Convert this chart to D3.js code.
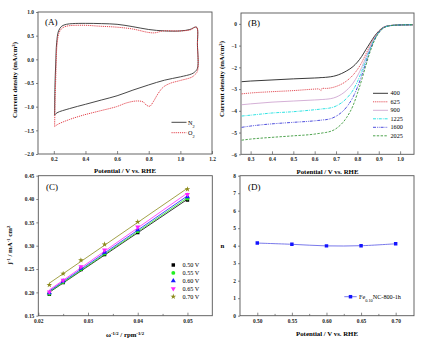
<!DOCTYPE html>
<html><head><meta charset="utf-8">
<script src="https://cdn.jsdelivr.net/npm/d3@7/dist/d3.min.js"></script>
<style>body{margin:0;background:#fff}svg{display:block}</style>
</head><body><div id="c"></div>
<script>
// ---------- DATA ----------
// Panel A: CV loops (V vs RHE, mA/cm2)
const cvN2V = [0.205,0.207,0.212,0.218,0.23,0.25,0.28,0.32,0.4,0.5,0.6,0.7,0.8,0.9,1.0,1.06,1.102,1.108,1.108,1.09,1.07,1.0,0.9,0.8,0.7,0.6,0.5,0.4,0.3,0.22,0.205];
const cvN2J = [-1.18,-0.6,-0.1,0.35,0.6,0.7,0.74,0.755,0.76,0.755,0.74,0.69,0.63,0.6,0.6,0.63,0.68,0.3,-0.19,-0.27,-0.31,-0.37,-0.44,-0.54,-0.65,-0.77,-0.86,-0.95,-1.04,-1.13,-1.18];
const cvO2V = [0.205,0.208,0.214,0.22,0.232,0.25,0.28,0.385,0.49,0.596,0.7,0.795,0.838,0.891,0.996,1.06,1.102,1.108,1.108,1.09,1.07,0.996,0.933,0.891,0.86,0.828,0.807,0.786,0.765,0.723,0.66,0.596,0.49,0.385,0.3,0.227,0.205];
const cvO2J = [-1.42,-0.9,-0.2,0.3,0.55,0.65,0.7,0.72,0.7,0.68,0.64,0.57,0.56,0.6,0.6,0.62,0.68,0.3,-0.25,-0.33,-0.38,-0.45,-0.51,-0.59,-0.72,-0.9,-0.99,-0.97,-0.9,-0.88,-0.92,-1.0,-1.09,-1.18,-1.27,-1.37,-1.42];

// Panel B: LSV at different rotation rates
const lsvV = [0.258,0.3,0.4,0.5,0.6,0.62,0.63,0.635,0.65,0.7,0.75,0.78,0.8,0.82,0.84,0.86,0.88,0.9,0.92,0.95,1.0,1.06];
const rpmLabels = ["400","625","900","1225","1600","2025"];
const lsv400  = [-2.66,-2.63,-2.58,-2.53,-2.49,-2.48,-2.47,-2.47,-2.46,-2.38,-2.16,-1.96,-1.76,-1.5,-1.18,-0.87,-0.57,-0.33,-0.17,-0.08,-0.05,-0.04];
const lsv625  = [-3.22,-3.18,-3.12,-3.07,-3.0,-2.99,-3.08,-2.96,-2.97,-2.88,-2.62,-2.35,-2.1,-1.78,-1.38,-0.98,-0.63,-0.35,-0.18,-0.08,-0.05,-0.04];
const lsv900  = [-3.72,-3.68,-3.6,-3.55,-3.5,-3.49,-3.48,-3.48,-3.47,-3.37,-3.05,-2.72,-2.4,-2.0,-1.53,-1.06,-0.67,-0.37,-0.19,-0.08,-0.05,-0.04];
const lsv1225 = [-4.24,-4.2,-4.1,-4.04,-3.95,-3.93,-3.92,-3.91,-3.9,-3.78,-3.42,-3.04,-2.66,-2.18,-1.65,-1.13,-0.7,-0.38,-0.2,-0.09,-0.05,-0.04];
const lsv1600 = [-4.76,-4.7,-4.6,-4.53,-4.46,-4.44,-4.43,-4.42,-4.41,-4.25,-3.82,-3.36,-2.92,-2.38,-1.78,-1.2,-0.73,-0.4,-0.2,-0.09,-0.05,-0.04];
const lsv2025 = [-5.35,-5.3,-5.22,-5.15,-5.07,-5.04,-5.03,-5.02,-5.0,-4.82,-4.3,-3.75,-3.2,-2.58,-1.9,-1.27,-0.76,-0.42,-0.21,-0.09,-0.05,-0.04];

// Panel C: K-L plots
const klX = [0.02222,0.025,0.02857,0.03333,0.04,0.05];
const klLabels = ["0.50 V","0.55 V","0.60 V","0.65 V","0.70 V"];
const kl050 = [0.196,0.221,0.249,0.281,0.328,0.398];
const kl055 = [0.197,0.222,0.250,0.283,0.331,0.401];
const kl060 = [0.199,0.224,0.252,0.286,0.334,0.405];
const kl065 = [0.201,0.226,0.255,0.291,0.340,0.410];
const kl070 = [0.216,0.240,0.269,0.303,0.351,0.421];

// Panel D: electron transfer number
const nPot = [0.50,0.55,0.60,0.65,0.70];
const nVal = [4.15,4.08,3.99,4.0,4.11];

// ---------- DRAW ----------
const W=431,H=347;
const svg=d3.select("#c").append("svg").attr("width",W).attr("height",H);
const SERIF="'Liberation Serif','DejaVu Serif',serif";
const AX="#555";

function sup(t, parts){
  parts.forEach(p=>{
    const ts=t.append("tspan").text(p[0]);
    if(p[1]==="sup") ts.attr("baseline-shift","super").attr("font-size","70%");
    if(p[1]==="sub") ts.attr("baseline-shift","sub").attr("font-size","70%");
  });
}

function panel(o){
  const x=d3.scaleLinear().domain(o.xd).range([o.x0,o.x1]);
  const y=d3.scaleLinear().domain(o.yd).range([o.y1,o.y0]);
  const g=svg.append("g");
  const clip="clip"+o.id;
  svg.append("clipPath").attr("id",clip).append("rect").attr("x",o.x0).attr("y",o.y0).attr("width",o.x1-o.x0).attr("height",o.y1-o.y0);
  const xa=d3.axisBottom(x).tickValues(o.xt).tickFormat(d3.format(o.xf)).tickSize(-3).tickPadding(3);
  g.append("g").attr("transform",`translate(0,${o.y1})`).call(xa);
  if(o.xm){ g.append("g").attr("transform",`translate(0,${o.y1})`).call(d3.axisBottom(x).tickValues(o.xm).tickFormat("").tickSize(-1.8)); }
  const ya=d3.axisLeft(y).tickValues(o.yt).tickFormat(d3.format(o.yf)).tickSize(2).tickPadding(2);
  g.append("g").attr("transform",`translate(${o.x0},0)`).call(ya);
  g.selectAll(".domain").remove();
  g.selectAll(".tick line").attr("stroke",AX).attr("stroke-width",0.7);
  g.selectAll(".tick text").attr("font-family",SERIF).attr("font-size",5.4).attr("font-weight","bold").attr("fill","#222");
  g.append("rect").attr("x",o.x0).attr("y",o.y0).attr("width",o.x1-o.x0).attr("height",o.y1-o.y0)
    .attr("fill","none").attr("stroke",AX).attr("stroke-width",0.9);
  const plot=svg.append("g").attr("clip-path",`url(#${clip})`);
  return {x,y,g,plot};
}

// Panel A
{
  const p=panel({id:"A",x0:38,x1:212,y0:12,y1:154,xd:[0.1,1.2],yd:[-2,1],
    xt:[0.2,0.4,0.6,0.8,1.0,1.2],xf:".1f",yt:[-2,-1.5,-1,-0.5,0,0.5,1],yf:".1f"});
  const line=d3.line().x(d=>p.x(d[0])).y(d=>p.y(d[1])).curve(d3.curveCatmullRom.alpha(0.5));
  p.plot.append("path").attr("d",line(d3.zip(cvN2V,cvN2J))).attr("fill","none").attr("stroke","#333").attr("stroke-width",0.9);
  p.plot.append("path").attr("d",line(d3.zip(cvO2V,cvO2J))).attr("fill","none").attr("stroke","#e0303a").attr("stroke-width",0.9).attr("stroke-dasharray","1.2,0.9");
  svg.append("text").attr("x",45).attr("y",25).attr("font-family",SERIF).attr("font-size",9).text("(A)");
  svg.append("line").attr("x1",171.5).attr("x2",186.5).attr("y1",122.3).attr("y2",122.3).attr("stroke","#333").attr("stroke-width",0.9);
  svg.append("line").attr("x1",171.5).attr("x2",186.5).attr("y1",132.7).attr("y2",132.7).attr("stroke","#e0303a").attr("stroke-width",0.9).attr("stroke-dasharray","1.2,0.9");
  sup(svg.append("text").attr("x",188).attr("y",124.5).attr("font-family",SERIF).attr("font-size",6.2),[["N"],["2","sub"]]);
  sup(svg.append("text").attr("x",188).attr("y",134.9).attr("font-family",SERIF).attr("font-size",6.2),[["O"],["2","sub"]]);
  svg.append("text").attr("x",125).attr("y",172.5).attr("text-anchor","middle").attr("font-family",SERIF).attr("font-size",6.8).attr("font-weight","bold").text("Potential / V vs. RHE");
  sup(svg.append("text").attr("transform","translate(17,80) rotate(-90)").attr("text-anchor","middle").attr("font-family",SERIF).attr("font-size",6.8).attr("font-weight","bold"),
    [["Current density (mA/cm"],["2","sup"],[")"]]);
}

// Panel B
{
  const p=panel({id:"B",x0:241,x1:414,y0:13,y1:154.3,xd:[0.255,1.065],yd:[-6,0.5],
    xt:[0.3,0.4,0.5,0.6,0.7,0.8,0.9,1.0],xf:".1f",yt:[-6,-5,-4,-3,-2,-1,0],yf:"d"});
  const series=[lsv400,lsv625,lsv900,lsv1225,lsv1600,lsv2025];
  const cols=["#222","#e04048","#c99ccb","#19e0e0","#3a3ad8","#3c9a3c"];
  const dash=[null,"1.2,0.9",null,"3,1,0.8,1","3,1,0.8,1,0.8,1","2.4,1.4"];
  const wid=[0.9,0.9,0.8,0.9,0.9,0.9];
  const line=d3.line().x(d=>p.x(d[0])).y(d=>p.y(d[1])).curve(d3.curveMonotoneX);
  series.forEach((s,i)=>{
    p.plot.append("path").attr("d",line(d3.zip(lsvV,s))).attr("fill","none").attr("stroke",cols[i]).attr("stroke-width",wid[i]).attr("stroke-dasharray",dash[i]);
    const ly=93.3+i*8.5;
    svg.append("line").attr("x1",373).attr("x2",388).attr("y1",ly).attr("y2",ly).attr("stroke",cols[i]).attr("stroke-width",wid[i]).attr("stroke-dasharray",dash[i]);
    svg.append("text").attr("x",390.5).attr("y",ly+2.1).attr("font-family",SERIF).attr("font-size",6.2).text(rpmLabels[i]);
  });
  svg.append("text").attr("x",248).attr("y",26).attr("font-family",SERIF).attr("font-size",9).text("(B)");
  svg.append("text").attr("x",327.5).attr("y",173.5).attr("text-anchor","middle").attr("font-family",SERIF).attr("font-size",6.8).attr("font-weight","bold").text("Potential / V vs. RHE");
  sup(svg.append("text").attr("transform","translate(223.5,79) rotate(-90)").attr("text-anchor","middle").attr("font-family",SERIF).attr("font-size",6.8).attr("font-weight","bold"),
    [["Current density (mA/cm"],["2","sup"],[")"]]);
}

// Panel C
{
  const p=panel({id:"C",x0:38.3,x1:212.3,y0:175.7,y1:315.7,xd:[0.02,0.055],yd:[0.15,0.45],
    xt:[0.02,0.03,0.04,0.05],xf:".2f",xm:[0.025,0.035,0.045],yt:[0.15,0.2,0.25,0.3,0.35,0.4,0.45],yf:".2f"});
  const series=[kl050,kl055,kl060,kl065,kl070];
  const cols=["#000","#22ee22","#1a1aff","#ff22ff","#8c8a1a"];
  const syms=[d3.symbolSquare,d3.symbolCircle,d3.symbolTriangle,d3.symbolTriangle,d3.symbolStar];
  const sizes=[12,12,11,11,10];
  series.forEach((s,i)=>{
    const mx=d3.mean(klX), my=d3.mean(s);
    const b=d3.sum(klX.map((v,k)=>(v-mx)*(s[k]-my)))/d3.sum(klX.map(v=>(v-mx)**2));
    const a=my-b*mx;
    const xs=[klX[0],klX[klX.length-1]];
    p.plot.append("line").attr("x1",p.x(xs[0])).attr("y1",p.y(a+b*xs[0])).attr("x2",p.x(xs[1])).attr("y2",p.y(a+b*xs[1]))
      .attr("stroke",cols[i]).attr("stroke-width",0.8);
    const sym=d3.symbol().type(syms[i]).size(sizes[i]);
    s.forEach((v,k)=>{
      p.plot.append("path").attr("d",sym()).attr("fill",cols[i])
        .attr("transform",`translate(${p.x(klX[k])},${p.y(v)})${i===3?" rotate(180)":""}`);
    });
    const ly=265+i*7.9;
    svg.append("path").attr("d",sym()).attr("fill",cols[i]).attr("transform",`translate(173.3,${ly})${i===3?" rotate(180)":""}`);
    svg.append("text").attr("x",182.5).attr("y",ly+2.1).attr("font-family",SERIF).attr("font-size",6.2).text(klLabels[i]);
  });
  svg.append("text").attr("x",46).attr("y",189.5).attr("font-family",SERIF).attr("font-size",9).text("(C)");
  sup(svg.append("text").attr("x",125).attr("y",337).attr("text-anchor","middle").attr("font-family",SERIF).attr("font-size",6.8).attr("font-weight","bold"),
    [["ω"],["-1/2","sup"],[" / rpm"],["-1/2","sup"]]);
  sup(svg.append("text").attr("transform","translate(12,245) rotate(-90)").attr("text-anchor","middle").attr("font-family",SERIF).attr("font-size",6.8).attr("font-weight","bold"),
    [["j"],["-1","sup"],[" / mA"],["-1","sup"],[" cm"],["2","sup"]]);
}

// Panel D
{
  const p=panel({id:"D",x0:240,x1:414,y0:175.7,y1:315.7,xd:[0.475,0.7265],yd:[0,8],
    xt:[0.50,0.55,0.60,0.65,0.70],xf:".2f",xm:[0.525,0.575,0.625,0.675],yt:[0,1,2,3,4,5,6,7,8],yf:"d"});
  const line=d3.line().x(d=>p.x(d[0])).y(d=>p.y(d[1])).curve(d3.curveCatmullRom);
  const pts=d3.zip(nPot,nVal);
  p.plot.append("path").attr("d",line(pts)).attr("fill","none").attr("stroke","#6a6ae8").attr("stroke-width",0.9);
  const sym=d3.symbol().type(d3.symbolSquare).size(12);
  pts.forEach(d=>p.plot.append("path").attr("d",sym()).attr("fill","#1414ff").attr("transform",`translate(${p.x(d[0])},${p.y(d[1])})`));
  svg.append("line").attr("x1",344.3).attr("x2",356.7).attr("y1",296.7).attr("y2",296.7).attr("stroke","#6a6ae8").attr("stroke-width",0.9);
  svg.append("path").attr("d",sym()).attr("fill","#1414ff").attr("transform","translate(350.5,296.7)");
  sup(svg.append("text").attr("x",359).attr("y",298.9).attr("font-family",SERIF).attr("font-size",6.2),
    [["Fe"],["0.10","sub"],["NC-800-1h"]]);
  svg.append("text").attr("x",248).attr("y",189.5).attr("font-family",SERIF).attr("font-size",9).text("(D)");
  svg.append("text").attr("x",327).attr("y",335.5).attr("text-anchor","middle").attr("font-family",SERIF).attr("font-size",6.8).attr("font-weight","bold").text("Potential / V vs. RHE");
  svg.append("text").attr("x",222.5).attr("y",248).attr("text-anchor","middle").attr("font-family",SERIF).attr("font-size",6.8).attr("font-weight","bold").text("n");
}
</script>
</body></html>
